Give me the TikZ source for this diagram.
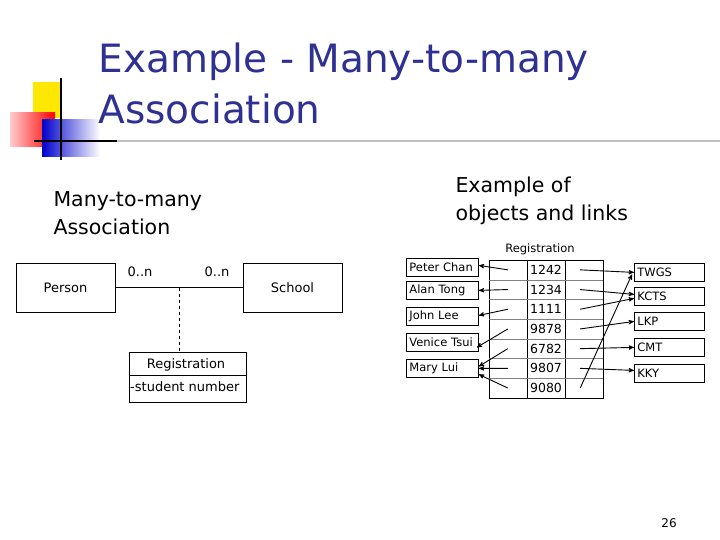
\documentclass[tikz,border=0pt]{standalone}
\usepackage{fontspec}
\setmainfont{DejaVu Sans}
\usetikzlibrary{positioning,calc,arrows}
\definecolor{titleblue}{RGB}{46,49,146}
\begin{document}
\begin{tikzpicture}[x=1pt,y=-1pt,>=stealth',
                    box/.style={draw,line width=0.8pt,minimum width=72pt,text width=66pt,minimum height=18pt,inner sep=3pt,align=left,font=\fontsize{11.5}{12}\selectfont},
                    cell/.style={minimum width=38pt,minimum height=19.7pt,inner sep=0pt,font=\fontsize{12.5}{13}\selectfont},
                    link/.style={->,line width=0.9pt}
                   ]
  \useasboundingbox (0,0) rectangle (720,540);
  % logo
  \fill[yellow!90!orange] (33,82) rectangle (62,118);
  \shade[left color=red!20,right color=red] (10,113) rectangle (55,147);
  \shade[left color=blue!80!black,right color=white] (42,120) rectangle (100,157);
  \draw[line width=1.5pt] (61,78) -- (61,160);
  \draw[line width=1.5pt] (34,141) -- (117,141);
  \draw[gray!50,line width=1.5pt] (117,141) -- (720,141);
  \node[anchor=west,text=titleblue,font=\fontsize{39}{51}\selectfont,align=left] (title) at (95,83)
    {Example - Many-to-many\\Association};
  \node[anchor=west,font=\fontsize{20.5}{28}\selectfont,align=left] (left) at (50,213) {Many-to-many\\Association};
  \node[anchor=west,font=\fontsize{20.5}{28}\selectfont,align=left] (right) at (452,201) {Example of\\objects and links};

  % class diagram
  \node[draw,thin,minimum width=99pt,minimum height=49pt,font=\fontsize{13}{14}\selectfont] (person) at (65.5,287.5) {Person};
  \node[draw,thin,minimum width=99pt,minimum height=49pt,font=\fontsize{13}{14}\selectfont] (school) at (292.5,287.5) {School};
  \draw[thin] (person) -- (school) coordinate[pos=0.5] (mid);
  \node[font=\fontsize{13}{14}\selectfont] at (140,272) {0..n};
  \node[font=\fontsize{13}{14}\selectfont] at (217,272) {0..n};
  \draw[thin] (129,352) rectangle (246,402);
  \draw[thin] (129,375) -- (246,375);
  \node[font=\fontsize{13}{14}\selectfont] (reg) at (186,365) {Registration};
  \node[anchor=west,inner sep=0pt,font=\fontsize{13}{14}\selectfont] (num) at (130,387) {-student number};
  \draw[thin,dashed] (mid) -- (179,352);

  % objects and links
  \node[font=\fontsize{11.5}{12}\selectfont] (tab) at (540,249) {Registration};
  \draw[thin] (489,260) rectangle (603,398);
  \draw[thin] (527,260) -- (527,398) (565,260) -- (565,398);
  \foreach \v [count=\i] in {1242,1234,1111,9878,6782,9807,9080} {
    \node[cell] (r\i) at (546,260+19.7*\i-9.85) {\v};
    \ifnum\i<7 \draw[thin,gray] (489,260+19.7*\i) -- (603,260+19.7*\i); \fi
  }
  \node[box,anchor=north west] (peter) at (406,258) {Peter Chan};
  \node[box,anchor=north west] (alan) at (406,281) {Alan Tong};
  \node[box,anchor=north west] (john) at (406,307) {John Lee};
  \node[box,anchor=north west] (venice) at (406,333) {Venice Tsui};
  \node[box,anchor=north west] (mary) at (406,359) {Mary Lui};
  \node[box,anchor=north west,minimum width=70pt,text width=64pt] (twgs) at (634,263) {TWGS};
  \node[box,anchor=north west,minimum width=70pt,text width=64pt] (kcts) at (634,287) {KCTS};
  \node[box,anchor=north west,minimum width=70pt,text width=64pt] (lkp) at (634,312) {LKP};
  \node[box,anchor=north west,minimum width=70pt,text width=64pt] (cmt) at (634,338) {CMT};
  \node[box,anchor=north west,minimum width=70pt,text width=64pt] (kky) at (634,364) {KKY};
  \foreach \r/\p/\dx/\dy in {1/peter/0/-2,2/alan/0/0,3/john/0/-1,4/venice/-2/5,5/mary/0/-2,6/mary/0/0,7/mary/0/6}
    \draw[link] ($(r\r.west)+(-19,0)$) -- ($(\p.east)+(\dx,\dy)$);
  \foreach \r/\o/\dy in {1/twgs/0,2/kcts/-2,3/kcts/2,4/lkp/0,5/cmt/0,6/kky/-3}
    \draw[link] ($(r\r.east)+(15,0)$) -- ($(\o.west)+(0,\dy)$);
  \draw[link] ($(r7.east)+(15,0)$) -- ($(twgs.west)+(-2,2)$);
  \node[font=\fontsize{12}{13}\selectfont] (page) at (669,523) {26};
\end{tikzpicture}
\end{document}
